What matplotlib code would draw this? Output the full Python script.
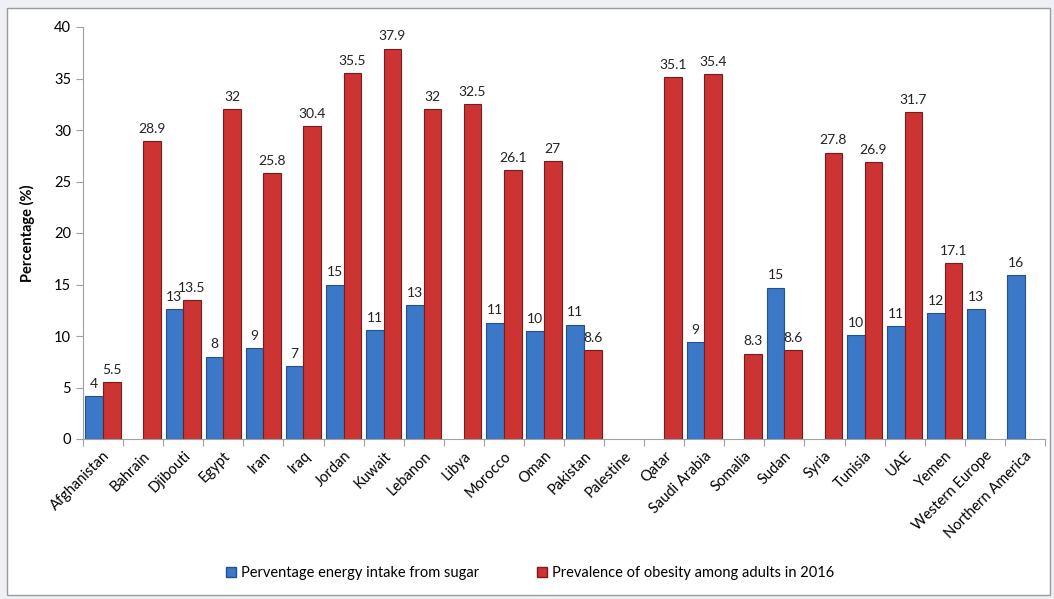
import matplotlib
matplotlib.use("Agg")
import matplotlib.pyplot as plt
import numpy as np
from matplotlib.patches import Rectangle

categories = ["Afghanistan", "Bahrain", "Djibouti", "Egypt", "Iran", "Iraq", "Jordan",
              "Kuwait", "Lebanon", "Libya", "Morocco", "Oman", "Pakistan", "Palestine",
              "Qatar", "Saudi Arabia", "Somalia", "Sudan", "Syria", "Tunisia", "UAE",
              "Yemen", "Western Europe", "Northern America"]
sugar = [4.2, None, 12.6, 8.0, 8.8, 7.1, 15.0, 10.6, 13.0, None, 11.3, 10.5, 11.1, None,
         None, 9.4, None, 14.7, None, 10.1, 11.0, 12.2, 12.6, 15.9]
obesity = [5.5, 28.9, 13.5, 32, 25.8, 30.4, 35.5, 37.9, 32, 32.5, 26.1, 27, 8.6, None,
           35.1, 35.4, 8.3, 8.6, 27.8, 26.9, 31.7, 17.1, None, None]
series_names = ["Perventage energy intake from sugar", "Prevalence of obesity among adults in 2016"]

plt.rcParams['font.family'] = ['Lato', 'DejaVu Sans']

fig = plt.figure(figsize=(10.54, 5.99), dpi=100)
fig.patch.set_facecolor('#eef0f5')
fig.patches.append(Rectangle((7/1054, 4/599), 1043/1054, 587/599, transform=fig.transFigure,
                             facecolor='white', edgecolor='#9a9a9a', linewidth=1.0, zorder=-10))

ax = fig.add_axes([83/1054, 1-439/599, (1045-83)/1054, (439-27)/599])
ax.set_facecolor('none')

x = np.arange(len(categories))
w = 0.44
blue = '#3b78c8'
red = '#cc3333'
for i in x:
    s = sugar[i]
    o = obesity[i]
    if s is not None:
        ax.bar(i - w/2, s, width=w, color=blue, edgecolor='#24508c', linewidth=0.8, zorder=2)
        ax.text(i - w/2, s + 0.6, f"{s:.0f}", ha='center', va='bottom', fontsize=10, color='#222222')
    if o is not None:
        ax.bar(i + w/2, o, width=w, color=red, edgecolor='#7a1c1c', linewidth=0.8, zorder=2)
        ax.text(i + w/2, o + 0.6, f"{o:g}", ha='center', va='bottom', fontsize=10, color='#222222')

ax.set_xlim(-0.5, len(categories) - 0.5)
ax.set_ylim(0, 40)
ax.set_yticks(np.arange(0, 41, 5))
ax.set_xticks(np.arange(-0.5, len(categories), 1), minor=False)
ax.set_xticklabels([])
ax.set_xticks(x, minor=True)
ax.set_xticklabels(categories, minor=True, rotation=45, ha='right', rotation_mode='anchor', fontsize=10.5)
ax.tick_params(axis='x', which='minor', length=0, pad=7)
ax.tick_params(axis='x', which='major', length=5, color='#a0a0a0')
ax.tick_params(axis='y', length=5, color='#a0a0a0', labelsize=10.5)
for sp in ['top', 'right']:
    ax.spines[sp].set_visible(False)
for sp in ['left', 'bottom']:
    ax.spines[sp].set_color('#a0a0a0')
ax.set_ylabel("Percentage (%)", fontsize=10.5, fontweight='bold', labelpad=14)

h1 = Rectangle((0, 0), 1, 1, facecolor=blue, edgecolor='#24508c')
h2 = Rectangle((0, 0), 1, 1, facecolor=red, edgecolor='#7a1c1c')
fig.legend([h1, h2], series_names, loc='center', bbox_to_anchor=(530/1054, 1-573/599), ncol=2,
           frameon=False, fontsize=10.5, handlelength=0.7, handleheight=0.7, handletextpad=0.3,
           columnspacing=4)

fig.savefig("out.png", dpi=100, facecolor=fig.get_facecolor())
